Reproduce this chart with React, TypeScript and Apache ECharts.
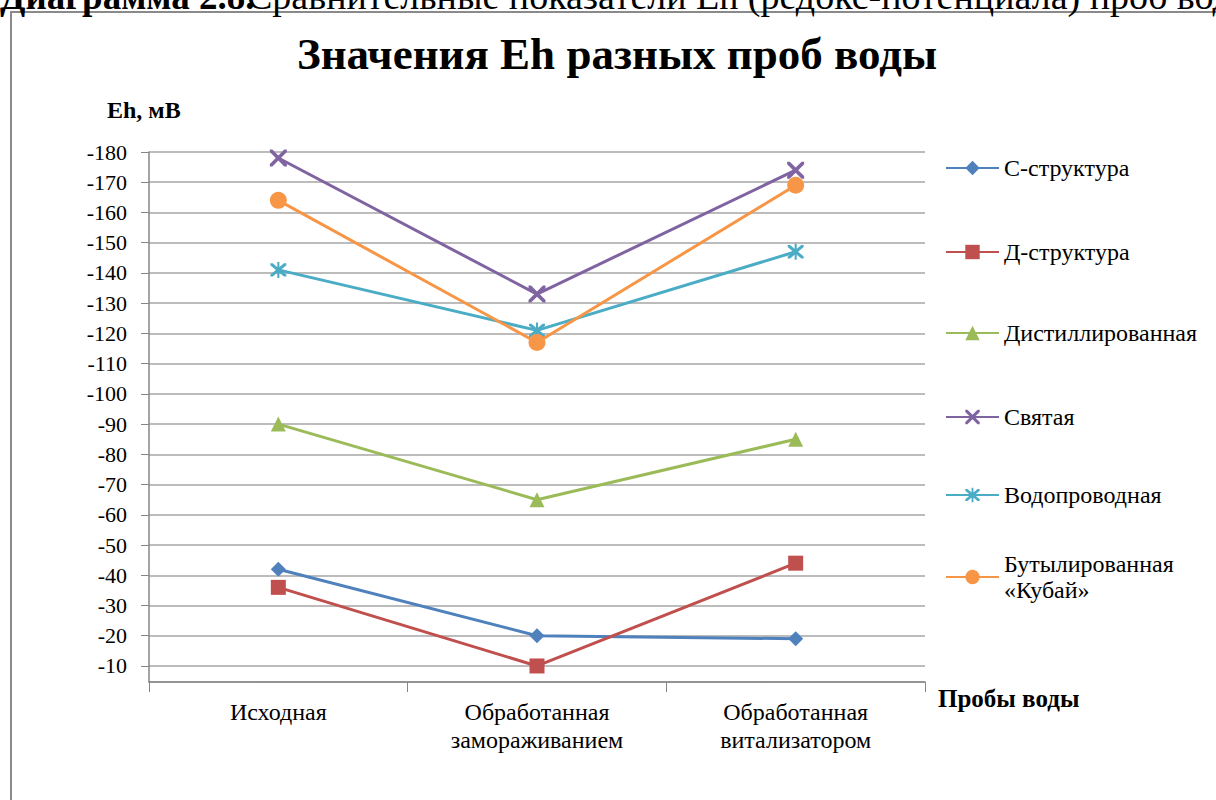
import React, { useEffect, useRef } from "react";
import * as echarts from "echarts";

const categories = ["Исходная", "Обработанная\nзамораживанием", "Обработанная\nвитализатором"];
const seriesNames = ["С-структура", "Д-структура", "Дистиллированная", "Святая", "Водопроводная", "Бутылированная «Кубай»"];
const cStructure = [-42, -20, -19];
const dStructure = [-36, -10, -44];
const distilled = [-90, -65, -85];
const holy = [-178, -133, -174];
const tapWater = [-141, -121, -147];
const bottled = [-164, -117, -169];
const yMin = -180;
const yMax = -4.7;
const yInterval = 10;

const colors = ["#4F81BD", "#C0504D", "#9BBB59", "#8064A2", "#4BACC6", "#F79646"];
const FONT = "Liberation Serif";

const xPath = "path://M0,0L3,0L10,7L17,0L20,0L20,3L13,10L20,17L20,20L17,20L10,13L3,20L0,20L0,17L7,10L0,3Z";
const starPath = "path://M0,0L3,0L10,7L17,0L20,0L20,3L13,10L20,17L20,20L17,20L10,13L3,20L0,20L0,17L7,10L0,3Z M8.7,-2L11.3,-2L11.3,22L8.7,22Z";

export default function App() {
  const ref = useRef<HTMLDivElement>(null);
  useEffect(() => {
    const chart = echarts.init(ref.current!, null, { renderer: "svg" });
    const dataSets = [cStructure, dStructure, distilled, holy, tapWater, bottled];
    const symbols = ["diamond", "rect", "triangle", xPath, starPath, "circle"];
    const sizes = [15, 15, 15, 17, 16, 17];
    const legendTops = [155, 239, 320, 404, 482, 538];
    chart.setOption({
      animation: false,
      backgroundColor: "#fff",
      color: colors,
      textStyle: { fontFamily: FONT },
      grid: { left: 149, right: 291, top: 152, bottom: 118 },
      xAxis: {
        type: "category",
        data: categories,
        boundaryGap: true,
        position: "bottom",
        axisLine: { onZero: false, lineStyle: { color: "#868686", width: 1.5 } },
        axisTick: { show: true, length: 10, lineStyle: { color: "#868686" } },
        axisLabel: { color: "#000", fontFamily: FONT, fontSize: 24, lineHeight: 28, margin: 16 },
        splitLine: { show: false },
      },
      yAxis: {
        type: "value",
        inverse: true,
        min: yMin,
        max: yMax,
        interval: yInterval,
        axisLine: { show: true, lineStyle: { color: "#868686", width: 1.5 } },
        axisTick: { show: true, length: 8, inside: false, lineStyle: { color: "#868686" } },
        axisLabel: { color: "#000", fontFamily: FONT, fontSize: 22, margin: 22, showMaxLabel: false, formatter: (v: number) => String(v) },
        splitLine: { show: true, lineStyle: { color: "#a6a6a6", width: 1.5 } },
      },
      legend: seriesNames.map((n, i) => ({
        data: [n],
        orient: "vertical",
        left: 945,
        top: legendTops[i],
        padding: 0,
        itemWidth: 53,
        itemHeight: 18,
        itemGap: 0,
        formatter: i === 5 ? () => "Бутылированная\n«Кубай»" : undefined,
        textStyle: i === 5
          ? { fontFamily: FONT, fontSize: 24, color: "#000", lineHeight: 26, padding: [26, 0, 0, 0] }
          : { fontFamily: FONT, fontSize: 24, color: "#000", lineHeight: 26 },
      })),
      series: seriesNames.map((n, i) => ({
        name: n,
        type: "line",
        data: dataSets[i],
        symbol: symbols[i],
        symbolSize: sizes[i],
        lineStyle: { width: 3, color: colors[i] },
        itemStyle: { color: colors[i] },
        z: 3 + i,
      })),
      graphic: [
        {
          type: "rect",
          shape: { x: 11, y: 12, width: 1300, height: 900 },
          style: { fill: "none", stroke: "#8a8a8a", lineWidth: 2 },
          z: -1,
        },
        {
          type: "text",
          x: 0,
          y: -4,
          style: {
            text: "Диаграмма 2.8.",
            fontFamily: FONT,
            fontWeight: "bold",
            fontSize: 37,
            fill: "#000",
            verticalAlign: "middle",
          },
        },
        {
          type: "text",
          x: 247,
          y: -4,
          style: {
            text: "Сравнительные показатели Eh (редокс-потенциала) проб воды",
            fontFamily: FONT,
            fontSize: 38,
            fill: "#000",
            verticalAlign: "middle",
          },
        },
        {
          type: "text",
          x: 617,
          y: 54,
          style: {
            text: "Значения Eh разных проб воды",
            fontFamily: FONT,
            fontWeight: "bold",
            fontSize: 45,
            fill: "#000",
            align: "center",
            verticalAlign: "middle",
          },
        },
        {
          type: "text",
          x: 107,
          y: 110,
          style: {
            text: "Eh, мВ",
            fontFamily: FONT,
            fontWeight: "bold",
            fontSize: 24,
            fill: "#000",
            align: "left",
            verticalAlign: "middle",
          },
        },
        {
          type: "text",
          x: 938,
          y: 698,
          style: {
            text: "Пробы воды",
            fontFamily: FONT,
            fontWeight: "bold",
            fontSize: 25,
            fill: "#000",
            align: "left",
            verticalAlign: "middle",
          },
        },
      ],
    });
    return () => chart.dispose();
  }, []);
  return <div ref={ref} style={{ position: "absolute", left: 0, top: 0, width: 1216, height: 800 }} />;
}
